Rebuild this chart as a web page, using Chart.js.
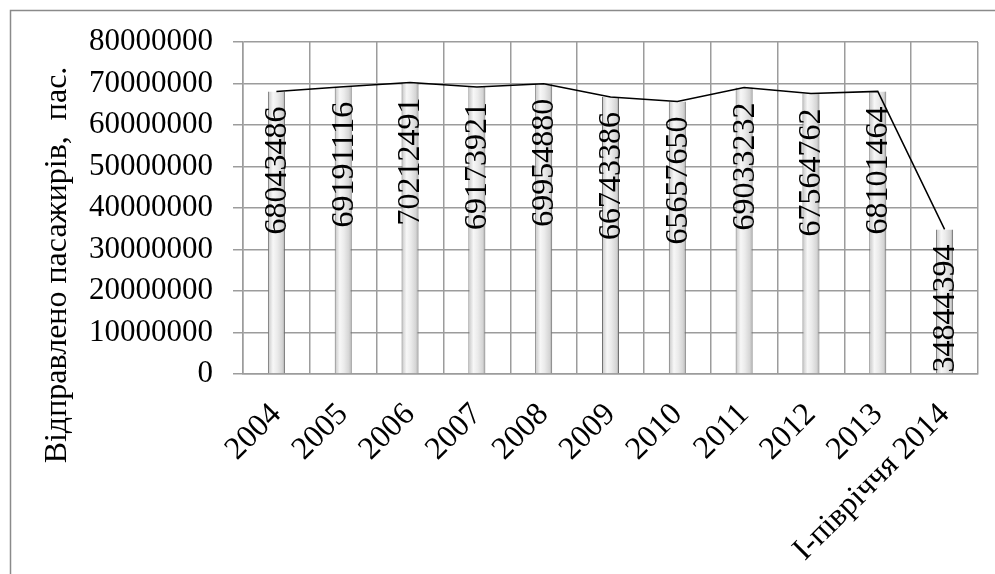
<!DOCTYPE html>
<html lang="uk">
<head>
<meta charset="utf-8">
<title>Відправлено пасажирів</title>
<script src="https://cdn.jsdelivr.net/npm/chart.js@4.4.1/dist/chart.umd.min.js"></script>
<style>
  html, body { margin: 0; padding: 0; background: #fff; }
  #wrap { width: 995px; height: 574px; position: relative; }
</style>
</head>
<body>
<div id="wrap"><canvas id="c"></canvas></div>
<script>
// дані
const years = ['2004', '2005', '2006', '2007', '2008', '2009', '2010', '2011', '2012', '2013', 'I-півріччя 2014'];
const passengers = [68043486, 69191116, 70212491, 69173921, 69954880, 66743386, 65657650, 69033232, 67564762, 68101464, 34844394];
const yTicksMax = 80000000;
const yTicksStep = 10000000;
const yTitle = 'Відправлено пасажирів,  пас.';

const SERIF = '"Liberation Serif", "Times New Roman", serif';
const GRID = '#9c9c9c';

// циліндр: горизонтальний градієнт по ширині стовпця
function barFill(ctx) {
  const chart = ctx.chart;
  const xs = chart.scales.x;
  if (!xs || ctx.dataIndex == null) return '#ddd';
  const cx = xs.getPixelForValue(ctx.dataIndex);
  if (!isFinite(cx)) return '#ddd';
  const w = 17;
  const g = chart.ctx.createLinearGradient(cx - w / 2, 0, cx + w / 2, 0);
  g.addColorStop(0, '#c4c4c4');
  g.addColorStop(0.3, '#f7f7f7');
  g.addColorStop(0.55, '#ebebeb');
  g.addColorStop(0.85, '#d4d4d4');
  g.addColorStop(1, '#a0a0a0');
  return g;
}

// рамка навколо діаграми + підпис осі Y
const frame = {
  id: 'frame',
  beforeDraw(chart) {
    const c = chart.ctx;
    c.save();
    c.strokeStyle = '#8a8a8a';
    c.lineWidth = 1.5;
    c.strokeRect(10.5, 10.5, 1100, 700);
    c.restore();
  },
  afterDraw(chart) {
    const c = chart.ctx;
    c.save();
    c.translate(58, 265);
    c.rotate(-Math.PI / 2);
    c.font = '32px ' + SERIF;
    c.fillStyle = '#000';
    c.textAlign = 'center';
    c.textBaseline = 'middle';
    c.fillText(yTitle, 0, 0);
    c.restore();
  }
};

// вертикальні підписи значень усередині стовпців
const valueLabels = {
  id: 'valueLabels',
  afterDatasetsDraw(chart) {
    const meta = chart.getDatasetMeta(0);
    const c = chart.ctx;
    c.save();
    c.font = '32px ' + SERIF;
    c.fillStyle = '#000';
    c.textAlign = 'right';
    c.textBaseline = 'middle';
    meta.data.forEach((el, i) => {
      c.save();
      c.translate(el.x + 1, el.y + 15);
      c.rotate(-Math.PI / 2);
      c.fillText(String(passengers[i]), 0, 0);
      c.restore();
    });
    c.restore();
  }
};

new Chart(document.getElementById('c'), {
  data: {
    labels: years,
    datasets: [
      {
        type: 'bar',
        data: passengers,
        backgroundColor: barFill,
        borderColor: '#6f6f6f',
        borderWidth: { left: 1, right: 1, top: 0, bottom: 0 },
        borderSkipped: false,
        barPercentage: 0.255,
        categoryPercentage: 1,
        order: 2
      },
      {
        type: 'line',
        data: passengers,
        borderColor: '#000',
        borderWidth: 1.5,
        pointRadius: 0,
        tension: 0,
        fill: false,
        order: 1
      }
    ]
  },
  options: {
    responsive: true,
    maintainAspectRatio: false,
    animation: false,
    devicePixelRatio: 1,
    layout: { padding: { left: 0, top: 42, right: 17, bottom: 0 } },
    plugins: { legend: { display: false }, tooltip: { enabled: false } },
    scales: {
      x: {
        offset: true,
        grid: { color: GRID, lineWidth: 1.5, offset: true, drawTicks: false },
        border: { color: GRID, width: 1.5 },
        ticks: {
          color: '#000',
          font: { family: SERIF, size: 32 },
          minRotation: 45,
          maxRotation: 45,
          padding: 22,
          autoSkip: false
        },
        afterFit(s) { s.height = 200; }
      },
      y: {
        min: 0,
        max: yTicksMax,
        grid: { color: GRID, lineWidth: 1.5, tickLength: 10 },
        border: { color: GRID, width: 1.5 },
        ticks: {
          stepSize: yTicksStep,
          color: '#000',
          font: { family: SERIF, size: 31 },
          padding: 20,
          callback: v => String(v)
        },
        afterFit(s) { s.width = 243; }
      }
    }
  },
  plugins: [frame, valueLabels]
});
</script>
</body>
</html>
